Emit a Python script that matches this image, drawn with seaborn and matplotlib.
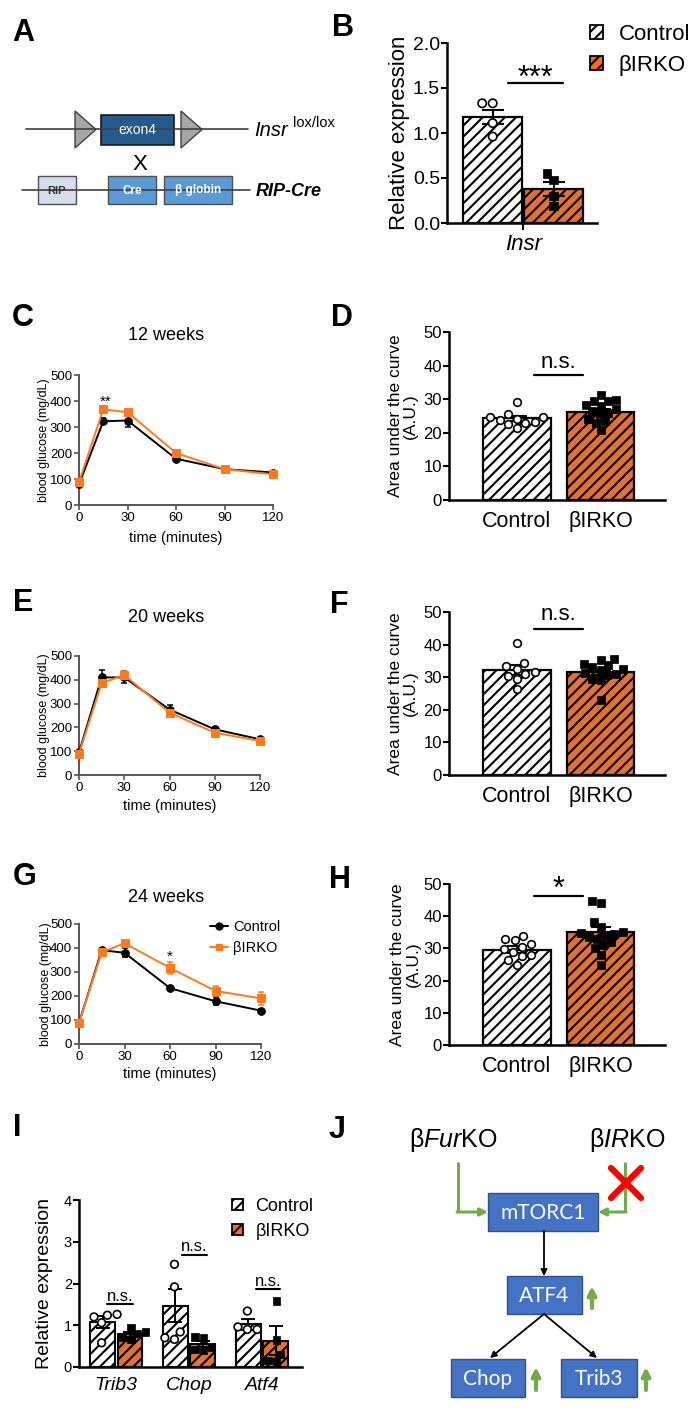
import numpy as np
import pandas as pd
import matplotlib
matplotlib.use('Agg')
import matplotlib.pyplot as plt
import seaborn as sns
from matplotlib.patches import Patch, Rectangle, Polygon
from matplotlib.lines import Line2D

# ---------------- data ----------------
GROUPS = ['Control', 'βIRKO']
TIMES = [0, 15, 30, 60, 90, 120]

# B: Insr expression
b_gene = ['Insr']
b_ctrl_pts = [1.33, 1.33, 1.11, 0.96]
b_ko_pts = [0.55, 0.48, 0.30, 0.19]
b_means = [1.18, 0.38]
b_sems = [0.08, 0.08]

# C: GTT 12 weeks
c_ctrl = [80, 322, 325, 178, 138, 125]
c_ctrl_err = [6, 12, 24, 10, 8, 6]
c_ko = [88, 368, 357, 200, 138, 118]
c_ko_err = [6, 8, 12, 8, 6, 6]

# D: AUC 12 weeks
d_ctrl_pts = [29.2, 25.5, 24.8, 24.6, 24.2, 23.9, 23.2, 22.7, 22.8, 21.3]
d_ko_pts = [31.2, 29.8, 29.5, 29.4, 28.3, 28.0, 27.2, 26.5, 26.0, 25.5, 24.0, 23.5, 23.0, 20.8]
d_means = [24.3, 26.3]
d_sems = [0.7, 0.8]

# E: GTT 20 weeks
e_ctrl = [95, 410, 410, 275, 192, 150]
e_ctrl_err = [5, 30, 25, 20, 8, 6]
e_ko = [90, 386, 420, 262, 178, 143]
e_ko_err = [5, 15, 18, 12, 8, 6]

# F: AUC 20 weeks
f_ctrl_pts = [40.5, 34.5, 33.3, 32.5, 31.5, 31.0, 30.5, 29.5, 26.5]
f_ko_pts = [35.5, 35.2, 34.0, 33.6, 33.2, 32.6, 32.2, 31.2, 31.0, 30.6, 29.6, 29.0, 23.0]
f_means = [32.3, 31.5]
f_sems = [1.5, 0.8]

# G: GTT 24 weeks
g_ctrl = [88, 391, 380, 233, 178, 139]
g_ctrl_err = [5, 8, 18, 8, 16, 6]
g_ko = [88, 382, 420, 317, 221, 190]
g_ko_err = [5, 10, 13, 26, 22, 27]

# H: AUC 24 weeks
h_ctrl_pts = [34.0, 33.0, 32.5, 31.5, 30.5, 29.8, 29.0, 28.0, 27.5, 26.5, 25.0]
h_ko_pts = [44.6, 44.0, 38.2, 36.5, 35.0, 34.8, 34.5, 34.0, 33.5, 33.0, 32.0, 31.0, 30.0, 28.0, 25.0]
h_means = [29.6, 35.0]
h_sems = [1.0, 1.6]

# I: gene expression
i_genes = ['Trib3', 'Chop', 'Atf4']
i_ctrl_pts = {'Trib3': [1.26, 1.24, 1.20, 1.06, 0.58],
              'Chop': [2.46, 1.92, 0.84, 0.70, 0.66],
              'Atf4': [1.34, 0.96, 0.90, 0.90]}
i_ko_pts = {'Trib3': [0.94, 0.84, 0.80, 0.72, 0.66],
            'Chop': [0.72, 0.70, 0.48, 0.42, 0.40],
            'Atf4': [1.58, 0.64, 0.30, 0.16, 0.12]}
i_ctrl_means = [1.08, 1.47, 1.02]
i_ctrl_sems = [0.14, 0.40, 0.13]
i_ko_means = [0.78, 0.55, 0.63]
i_ko_sems = [0.05, 0.08, 0.35]

# ---------------- style ----------------
sns.set_theme(style='ticks')
plt.rcParams['font.family'] = ['Liberation Sans', 'DejaVu Sans']
plt.rcParams['mathtext.fontset'] = 'custom'
plt.rcParams['mathtext.rm'] = 'Liberation Sans'
plt.rcParams['mathtext.it'] = 'Liberation Sans:italic'
plt.rcParams['mathtext.bf'] = 'Liberation Sans:bold'
plt.rcParams['hatch.linewidth'] = 1.5
for k in ['text.color', 'axes.labelcolor', 'xtick.color', 'ytick.color']:
    plt.rcParams[k] = 'black'

HATCH = '///'
ORANGE = '#FF6A13'
LORANGE = '#FF7A1F'
PAL = {'Control': 'white', 'βIRKO': ORANGE}
PTPAL = {'Control': 'white', 'βIRKO': 'black'}

W, H = 700, 1409
fig = plt.figure(figsize=(7, 14.09), dpi=100)


def ax_px(l, t, w, h):
    return fig.add_axes([l / W, 1 - (t + h) / H, w / W, h / H])


# overlay for panel letters, titles, diagrams
ov = fig.add_axes([0, 0, 1, 1])
ov.set_xlim(0, W)
ov.set_ylim(H, 0)
ov.axis('off')


def bar_centers(ax):
    return sorted(p.get_x() + p.get_width() / 2 for p in ax.patches)


def style_bar_axes(ax, ysize):
    sns.despine(ax=ax)
    for s in ['left', 'bottom']:
        ax.spines[s].set_linewidth(1.8)
        ax.spines[s].set_color('black')
    ax.tick_params(axis='y', length=4, width=1.5, labelsize=ysize, pad=1)


def style_line_axes(ax):
    sns.despine(ax=ax)
    for s in ['left', 'bottom']:
        ax.spines[s].set_linewidth(1.4)
        ax.spines[s].set_color('#555555')
    ax.tick_params(axis='both', length=3.5, width=1.2, color='#555555', labelsize=9.5, pad=1.5)


# ---------------- B ----------------
axB = ax_px(447, 43, 150, 180)
dfB = pd.DataFrame({'gene': b_gene * 2, 'group': GROUPS, 'val': b_means})
sns.barplot(data=dfB, x='gene', y='val', hue='group', hue_order=GROUPS, palette=PAL,
            errorbar=None, width=0.8, gap=0.03, edgecolor='black', linewidth=1.6,
            hatch=HATCH, legend=False, ax=axB)
cB = bar_centers(axB)
axB.errorbar(cB, b_means, yerr=b_sems, fmt='none', ecolor='black', elinewidth=1.5,
             capsize=8, capthick=1.5, zorder=3)
sns.swarmplot(x=b_gene * len(b_ctrl_pts), y=b_ctrl_pts, hue=['Control'] * len(b_ctrl_pts),
              hue_order=GROUPS, dodge=True, palette=PTPAL, marker='o', size=6,
              edgecolor='black', linewidth=1.2, legend=False, ax=axB, zorder=4)
sns.swarmplot(x=b_gene * len(b_ko_pts), y=b_ko_pts, hue=['βIRKO'] * len(b_ko_pts),
              hue_order=GROUPS, dodge=True, palette=PTPAL, marker='s', size=6,
              edgecolor='black', linewidth=0.5, legend=False, ax=axB, zorder=4)
axB.set_xlim(-0.5, 0.485)
axB.set_ylim(0, 2)
axB.set_yticks([0, 0.5, 1.0, 1.5, 2.0])
axB.set_yticklabels(['0.0', '0.5', '1.0', '1.5', '2.0'])
style_bar_axes(axB, 14)
axB.tick_params(axis='x', length=5, width=1.5, labelsize=16, pad=3)
for t in axB.get_xticklabels():
    t.set_fontstyle('italic')
axB.set_xlabel('')
axB.set_ylabel('Relative expression', fontsize=16)
axB.yaxis.set_label_coords(-0.25, 0.5)
axB.plot([-0.1, 0.26], [1.56, 1.56], color='black', lw=1.6)
axB.text(0.08, 1.51, '***', fontsize=22, ha='center', va='baseline')
fig.legend(handles=[Patch(facecolor=PAL[g], edgecolor='black', hatch=HATCH, linewidth=1.3) for g in GROUPS],
           labels=GROUPS, loc='upper left', bbox_to_anchor=(590 / W, 1 - 24 / H),
           frameon=False, fontsize=16, handlelength=0.6, handleheight=0.6,
           handletextpad=0.7, labelspacing=0.45, borderpad=0, borderaxespad=0)


# ---------------- GTT line panels ----------------
def gtt_panel(rect, ctrl, ctrl_err, ko, ko_err, ylab_x, xlab_y):
    ax = ax_px(*rect)
    sns.lineplot(x=TIMES, y=ctrl, color='black', marker='o', markersize=5.5,
                 markeredgecolor='black', linewidth=1.4, ax=ax, clip_on=False, zorder=3)
    ax.errorbar(TIMES, ctrl, yerr=ctrl_err, fmt='none', ecolor='black', elinewidth=1.1,
                capsize=2.5, capthick=1.1, clip_on=False, zorder=3)
    sns.lineplot(x=TIMES, y=ko, color=LORANGE, marker='s', markersize=5.5,
                 markeredgecolor=LORANGE, linewidth=1.4, ax=ax, clip_on=False, zorder=4)
    ax.errorbar(TIMES, ko, yerr=ko_err, fmt='none', ecolor=LORANGE, elinewidth=1.1,
                capsize=2.5, capthick=1.1, clip_on=False, zorder=4)
    ax.set_xlim(0, 120)
    ax.set_ylim(0, 500)
    ax.set_xticks([0, 30, 60, 90, 120])
    ax.set_yticks([0, 100, 200, 300, 400, 500])
    style_line_axes(ax)
    ax.set_xlabel('time (minutes)', fontsize=10.5)
    ax.set_ylabel('blood glucose (mg/dL)', fontsize=9)
    ax.yaxis.set_label_coords(ylab_x, 0.5)
    ax.xaxis.set_label_coords(0.5, xlab_y)
    return ax


axC = gtt_panel((79, 375, 194, 130), c_ctrl, c_ctrl_err, c_ko, c_ko_err, -0.15, -0.2)
axC.text(16.7, 381, '**', fontsize=11, ha='center', va='baseline')
axE = gtt_panel((79, 656, 181, 119), e_ctrl, e_ctrl_err, e_ko, e_ko_err, -0.16, -0.2)
axG = gtt_panel((79, 924, 182, 120), g_ctrl, g_ctrl_err, g_ko, g_ko_err, -0.15, -0.19)
axG.text(60, 346, '*', fontsize=11, ha='center', va='baseline')
fig.legend(handles=[Line2D([0], [0], color='black', marker='o', ms=5, lw=1.4),
                    Line2D([0], [0], color=LORANGE, marker='s', ms=5, lw=1.4)],
           labels=GROUPS, loc='upper left', bbox_to_anchor=(210 / W, 1 - 920 / H),
           frameon=False, fontsize=10.5, handlelength=1.2, handletextpad=0.4,
           labelspacing=0.5, borderpad=0, borderaxespad=0)


# ---------------- AUC bar panels ----------------
def auc_panel(rect, ctrl_pts, ko_pts, means, sems, sig, line_y, txt_y, txt_size):
    ax = ax_px(*rect)
    sns.barplot(x=GROUPS, y=means, hue=GROUPS, order=GROUPS, hue_order=GROUPS, palette=PAL,
                errorbar=None, width=0.81, edgecolor='black', linewidth=1.6, hatch=HATCH,
                legend=False, ax=ax)
    cx = bar_centers(ax)
    ax.errorbar(cx, means, yerr=sems, fmt='none', ecolor='black', elinewidth=1.5,
                capsize=7, capthick=1.5, zorder=3)
    sns.swarmplot(x=['Control'] * len(ctrl_pts), y=ctrl_pts, order=GROUPS, color='white',
                  marker='o', size=5.5, edgecolor='black', linewidth=1.2, ax=ax, zorder=4)
    sns.swarmplot(x=['βIRKO'] * len(ko_pts), y=ko_pts, order=GROUPS, color='black',
                  marker='s', size=5.5, edgecolor='black', linewidth=0.5, ax=ax, zorder=4)
    ax.set_xlim(-0.81, 1.77)
    ax.set_ylim(0, 50)
    ax.set_yticks([0, 10, 20, 30, 40, 50])
    style_bar_axes(ax, 12)
    ax.tick_params(axis='x', length=0, labelsize=15.5, pad=8)
    ax.set_ylabel('Area under the curve\n(A.U.)', fontsize=12.5, linespacing=1.05)
    ax.plot([0.21, 0.79], [line_y, line_y], color='black', lw=1.6)
    ax.text(0.5, txt_y, sig, fontsize=txt_size, ha='center', va='baseline')
    return ax


axD = auc_panel((449, 332, 216, 168), d_ctrl_pts, d_ko_pts, d_means, d_sems, 'n.s.', 37.2, 39.3, 16)
axD.yaxis.set_label_coords(-0.143, 0.5)
axF = auc_panel((449, 612, 216, 163), f_ctrl_pts, f_ko_pts, f_means, f_sems, 'n.s.', 44.9, 47.4, 16)
axF.yaxis.set_label_coords(-0.143, 0.5)
axH = auc_panel((449, 884, 216, 161), h_ctrl_pts, h_ko_pts, h_means, h_sems, '*', 46.3, 45.6, 22)
axH.yaxis.set_label_coords(-0.13, 0.5)

# ---------------- I ----------------
axI = ax_px(79, 1200, 223, 167)
dfI = pd.DataFrame({'gene': i_genes * 2, 'group': ['Control'] * 3 + ['βIRKO'] * 3,
                    'val': i_ctrl_means + i_ko_means})
sns.barplot(data=dfI, x='gene', y='val', hue='group', order=i_genes, hue_order=GROUPS,
            palette=PAL, errorbar=None, width=0.75, gap=0.1, edgecolor='black',
            linewidth=1.5, hatch=HATCH, legend=False, ax=axI)
cI = bar_centers(axI)
iv = [v for pair in zip(i_ctrl_means, i_ko_means) for v in pair]
ie = [v for pair in zip(i_ctrl_sems, i_ko_sems) for v in pair]
axI.errorbar(cI, iv, yerr=ie, fmt='none', ecolor='black', elinewidth=1.4,
             capsize=5, capthick=1.4, zorder=3)
cg, cv = [], []
for g in i_genes:
    cg += [g] * len(i_ctrl_pts[g]); cv += i_ctrl_pts[g]
kg, kv = [], []
for g in i_genes:
    kg += [g] * len(i_ko_pts[g]); kv += i_ko_pts[g]
sns.swarmplot(x=cg, y=cv, hue=['Control'] * len(cv), order=i_genes, hue_order=GROUPS,
              dodge=True, palette=PTPAL, marker='o', size=5.5, edgecolor='black',
              linewidth=1.2, legend=False, ax=axI, zorder=4)
sns.swarmplot(x=kg, y=kv, hue=['βIRKO'] * len(kv), order=i_genes, hue_order=GROUPS,
              dodge=True, palette=PTPAL, marker='s', size=5.5, edgecolor='black',
              linewidth=0.5, legend=False, ax=axI, zorder=4)
axI.set_xlim(-0.51, 2.55)
axI.set_ylim(0, 4)
axI.set_yticks([0, 1, 2, 3, 4])
style_bar_axes(axI, 10.5)
axI.tick_params(axis='x', length=0, labelsize=14, pad=7)
for t in axI.get_xticklabels():
    t.set_fontstyle('italic')
axI.set_xlabel('')
axI.set_ylabel('Relative expression', fontsize=14)
axI.yaxis.set_label_coords(-0.117, 0.5)
for x0, x1, y in [(-0.12, 0.23, 1.5), (0.9, 1.25, 2.68), (1.92, 2.25, 1.86)]:
    axI.plot([x0, x1], [y, y], color='black', lw=1.5)
    axI.text((x0 + x1) / 2, y + 0.09, 'n.s.', fontsize=12, ha='center', va='baseline')
fig.legend(handles=[Patch(facecolor=PAL[g], edgecolor='black', hatch=HATCH, linewidth=1.3) for g in GROUPS],
           labels=GROUPS, loc='upper left', bbox_to_anchor=(232 / W, 1 - 1198 / H),
           frameon=False, fontsize=13, handlelength=0.6, handleheight=0.6,
           handletextpad=0.7, labelspacing=0.45, borderpad=0, borderaxespad=0)

# ---------------- overlay: letters & titles ----------------
for lab, x, y in [('A', 23, 33), ('B', 343, 28), ('C', 23, 318), ('D', 342, 318),
                  ('E', 23, 603), ('F', 339, 605), ('G', 25, 877), ('H', 340, 880),
                  ('I', 17, 1128), ('J', 337, 1130)]:
    ov.text(x, y, lab, fontsize=22, fontweight='bold', ha='center', va='center')
for txt, y in [('12 weeks', 335), ('20 weeks', 618), ('24 weeks', 897)]:
    ov.text(166, y, txt, fontsize=13, ha='center', va='center')

# ---------------- panel A diagram ----------------
ov.plot([26, 248], [129, 129], color='#404040', lw=1.2)
ov.add_patch(Polygon([[75, 111], [75, 148], [96, 129.5]], closed=True, fc='#A6A6A6', ec='#404040', lw=1))
ov.add_patch(Rectangle((101, 115), 73, 30, fc='#245A8D', ec='#1A1A1A', lw=1.2))
ov.text(137.5, 130.5, 'exon4', color='white', fontsize=10, ha='center', va='center')
ov.add_patch(Polygon([[181, 111], [181, 148], [202, 129.5]], closed=True, fc='#A6A6A6', ec='#404040', lw=1))
ov.text(254, 131, 'Insr', fontsize=14.5, fontstyle='italic', ha='left', va='center')
ov.text(293, 123, 'lox/lox', fontsize=10.5, ha='left', va='center')
ov.text(140, 164, 'X', fontsize=16, ha='center', va='center')
ov.plot([22, 250], [190, 190], color='#404040', lw=1.2)
ov.add_patch(Rectangle((38, 176), 38, 28, fc='#D6DEEE', ec='#505050', lw=1))
ov.text(57, 190.5, 'RIP', color='#333333', fontsize=8, fontweight='bold', ha='center', va='center')
ov.add_patch(Rectangle((108, 176), 48, 28, fc='#5B9BD5', ec='#505050', lw=1))
ov.text(132, 190.5, 'Cre', color='white', fontsize=8.5, fontweight='bold', ha='center', va='center')
ov.add_patch(Rectangle((164, 176), 68, 28, fc='#5B9BD5', ec='#505050', lw=1))
ov.text(198, 190.5, 'β globin', color='white', fontsize=8.5, fontweight='bold', ha='center', va='center')
ov.text(256, 191, 'RIP-Cre', fontsize=13, fontweight='bold', fontstyle='italic', ha='left', va='center')

# ---------------- panel J diagram ----------------
BLUE, BEDGE, GREEN = '#4472C4', '#2F528F', '#70AD47'


def box(x0, y0, x1, y1, label):
    ov.add_patch(Rectangle((x0, y0), x1 - x0, y1 - y0, fc=BLUE, ec=BEDGE, lw=1))
    ov.text((x0 + x1) / 2, (y0 + y1) / 2 + 1, label, color='white', fontsize=15,
            ha='center', va='center', family='Lato')


box(488, 1193, 598, 1231, 'mTORC1')
box(507, 1276, 582, 1314, 'ATF4')
box(451, 1359, 525, 1397, 'Chop')
box(561, 1359, 637, 1397, 'Trib3')
ov.text(453, 1140, r'β$\mathit{Fur}$KO', fontsize=18, ha='center', va='center')
ov.text(627, 1140, r'β$\mathit{IR}$KO', fontsize=18, ha='center', va='center')


def arrow(p0, p1, color, lw, ms):
    ov.annotate('', xy=p1, xytext=p0,
                arrowprops=dict(arrowstyle='-|>', color=color, lw=lw, mutation_scale=ms,
                                shrinkA=0, shrinkB=0))


ov.plot([458, 458], [1162, 1212], color=GREEN, lw=2.2, solid_capstyle='butt')
arrow((457, 1212), (488, 1212), GREEN, 2.2, 11)
ov.plot([625, 625], [1162, 1212], color=GREEN, lw=2.2, solid_capstyle='butt')
arrow((626, 1212), (598, 1212), GREEN, 2.2, 11)
ov.plot([611, 641], [1168, 1198], color='#FF0000', lw=4.5)
ov.plot([611, 641], [1198, 1168], color='#FF0000', lw=4.5)
arrow((544, 1231), (544, 1276), 'black', 1.3, 9)
arrow((544, 1314), (490, 1358), 'black', 1.3, 9)
arrow((544, 1314), (597, 1358), 'black', 1.3, 9)
for x, y0, y1 in [(592, 1308, 1286), (536, 1390, 1367), (646, 1390, 1367)]:
    arrow((x, y0), (x, y1), GREEN, 3, 12)

fig.savefig('out.png', dpi=100)
